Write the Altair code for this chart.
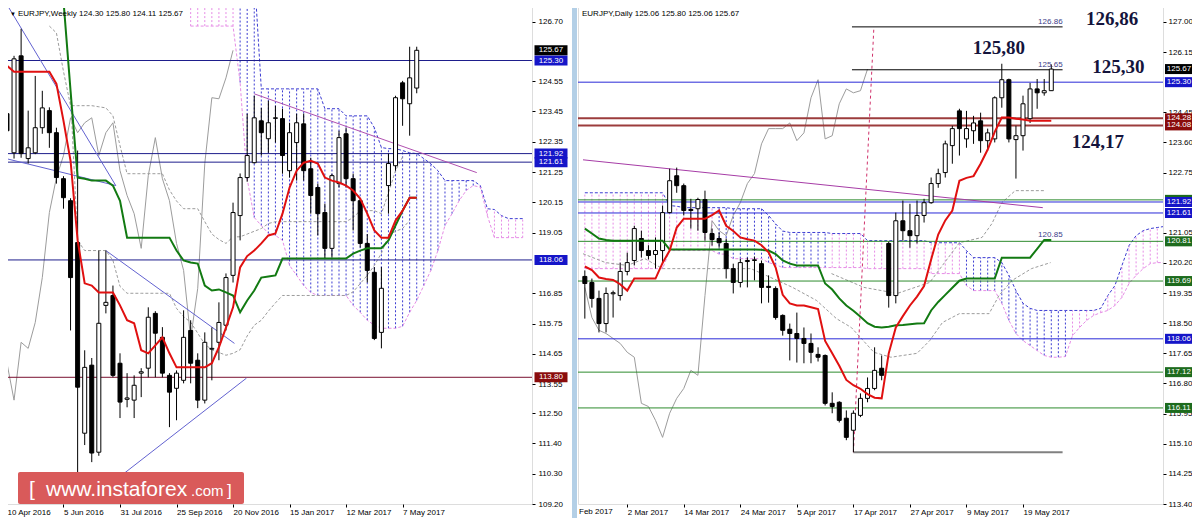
import json
import altair as alt
import pandas as pd

# ======================= DATA =======================
# ---- Weekly (left) ----
W_TITLE = "EURJPY,Weekly  124.30 125.80 124.11 125.67"
W_XTICKS = [0, 8, 16, 24, 32, 40, 48, 56]
W_XLABELS = ["10 Apr 2016", "5 Jun 2016", "31 Jul 2016", "25 Sep 2016",
             "20 Nov 2016", "15 Jan 2017", "12 Mar 2017", "7 May 2017"]
W_YTICKS = [126.70, 124.55, 123.45, 122.35, 121.25, 120.15, 119.05,
            116.85, 115.75, 114.65, 113.55, 112.50, 111.40, 110.30, 109.20]
W_OPEN = [123.37, 121.95, 125.47, 121.74, 121.95, 122.86, 123.48, 122.68, 121.01, 120.21,
          118.69, 111.77, 114.24, 111.08, 116.41, 116.77, 114.31, 113.00, 112.97, 113.95,
          114.13, 116.12, 115.25, 113.87, 113.40, 113.69, 115.50, 114.42, 112.97, 114.82,
          115.07, 115.69, 117.50, 119.67, 121.05, 121.59, 123.11, 122.46, 123.20, 123.19,
          121.30, 122.32, 123.00, 121.37, 120.69, 119.78, 118.48, 120.83, 122.64, 121.01,
          120.21, 118.66, 117.61, 115.43, 120.76, 121.48, 124.49, 123.73, 124.30]
W_HIGH = [123.95, 125.47, 126.45, 123.48, 124.74, 124.20, 123.60, 122.86, 121.10, 120.30,
          122.03, 114.78, 114.50, 118.40, 118.40, 117.13, 114.67, 113.95, 113.87, 114.13,
          116.34, 116.20, 115.62, 113.95, 114.05, 116.23, 115.87, 114.67, 115.43, 115.61,
          116.52, 117.57, 120.14, 121.20, 123.37, 124.02, 123.58, 123.84, 123.66, 123.55,
          123.04, 123.37, 123.37, 121.77, 120.83, 120.10, 121.19, 122.75, 122.86, 121.19,
          120.30, 119.00, 117.80, 117.80, 121.92, 124.02, 124.56, 125.80, 125.80]
W_LOW = [122.40, 121.74, 121.77, 121.56, 121.90, 122.64, 122.13, 120.83, 119.92, 115.50,
         109.30, 111.34, 110.72, 110.95, 116.12, 113.80, 112.32, 112.71, 112.32, 113.08,
         113.80, 113.80, 113.80, 111.99, 112.24, 113.58, 113.58, 112.68, 112.85, 113.69,
         114.42, 115.50, 117.24, 118.77, 120.90, 121.56, 121.85, 121.95, 122.32, 121.19,
         121.05, 120.94, 120.94, 119.74, 118.95, 118.11, 118.15, 120.69, 120.69, 119.13,
         118.51, 117.24, 115.15, 114.85, 119.74, 121.30, 122.93, 122.57, 124.11]
W_CLOSE = [122.75, 125.36, 121.92, 122.13, 122.86, 123.58, 122.68, 121.05, 120.32, 117.42,
           113.44, 114.16, 111.05, 115.76, 116.52, 113.87, 112.90, 113.05, 113.51, 114.00,
           115.98, 115.40, 113.95, 113.26, 113.95, 115.25, 114.31, 112.97, 115.07, 114.85,
           115.79, 117.42, 119.78, 121.05, 121.85, 123.22, 122.68, 123.04, 123.22, 121.85,
           122.68, 123.04, 121.30, 120.40, 119.74, 118.48, 121.12, 122.50, 121.01, 120.21,
           118.66, 117.68, 115.21, 117.03, 121.56, 123.95, 123.91, 124.67, 125.67]
W_TENKAN = [125.11, 124.89, 124.89, 124.89, 124.89, 124.89, 124.89, 124.45, 123.11, 121.66,
            118.77, 117.21, 117.13, 116.88, 116.88, 116.88, 116.41, 115.87, 115.76, 114.78,
            114.67, 114.96, 115.25, 114.67, 114.16, 114.16, 114.16, 114.16, 114.16, 114.31,
            114.89, 115.60, 116.34, 117.79, 118.20, 118.40, 118.66, 118.95, 119.02, 119.74,
            120.69, 121.30, 121.59, 121.66, 121.56, 121.05, 120.94, 120.87, 120.76, 120.58,
            120.29, 119.74, 119.13, 118.87, 118.87, 119.49, 119.85, 120.32, 120.32]
W_KIJUN_START = 7
W_KIJUN = [128.50, 127.46, 124.20, 121.05, 121.01, 120.94, 120.94, 120.94, 120.76, 120.21,
           118.87, 118.87, 118.87, 118.87, 118.87, 118.87, 118.87, 118.40, 118.04, 117.97,
           117.93, 117.13, 116.95, 116.99, 116.88, 116.77, 116.16, 116.59, 116.95, 117.42,
           117.46, 117.50, 118.11, 118.11, 118.11, 118.11, 118.11, 118.11, 118.11, 118.11,
           118.11, 118.11, 118.29, 118.40, 118.48, 118.48, 118.48, 118.77, 119.31, 119.85,
           120.32, 120.32]
W_CHIKOU = [114.31, 112.97, 115.07, 114.85, 115.79, 117.42, 119.78, 121.05, 121.85, 123.22,
            122.68, 123.04, 123.22, 121.85, 122.68, 123.04, 121.30, 120.40, 119.74, 118.48,
            121.12, 122.50, 121.01, 120.21, 118.66, 117.68, 115.21, 117.03, 121.56, 123.95,
            123.91, 124.67, 125.67]
W_CLOUD_START = 26
W_CLOUD_UP = [128.5, 128.5, 128.5, 128.5, 128.5, 128.5, 128.5,
              128.5, 128.5, 128.5,
              124.27, 124.27, 124.27, 124.27, 124.27, 124.27, 124.27, 124.27, 124.27,
              123.55, 123.55, 123.55, 123.29, 123.29, 123.29, 123.29,
              122.86, 122.14, 122.10, 122.10, 122.03, 121.95, 121.92, 121.74, 121.55, 121.30,
              120.94, 120.94, 120.94, 120.94, 120.94,
              120.76, 119.92, 119.89, 119.67, 119.56, 119.56, 119.56]
W_CLOUD_LO = [126.55, 126.55, 126.55, 126.55, 126.55, 126.55, 126.55,
              124.50, 121.00, 119.60,
              119.31, 119.02, 118.95, 118.77, 117.86, 117.50, 117.13, 116.88, 116.77,
              116.77, 116.77, 116.77, 116.77, 116.41, 116.16, 115.87,
              115.69, 115.58, 115.58, 115.58, 115.65, 116.16, 116.59, 117.13, 117.68, 118.40,
              119.31, 119.74, 120.21, 120.58, 120.76,
              120.70, 119.67, 118.87, 118.87, 118.87, 118.87, 118.87]
W_CLOUD_SIDE = "ppppppp" + "b" * 34 + "ppppppp"
W_GRAY1_START = 6
W_GRAY1 = [126.55, 126.30, 124.90, 123.66, 123.66, 123.66, 123.66, 123.62, 123.58, 123.29,
           122.21, 121.19, 121.19, 121.19, 121.19, 121.19, 121.19, 120.60, 120.20, 119.92,
           119.92, 119.92, 119.45, 119.00, 118.80, 118.66, 118.90, 118.90, 119.00, 119.10,
           119.20, 119.38, 119.45, 119.45, 119.45, 119.45, 119.45, 119.45, 119.45, 119.45,
           119.45, 119.45, 119.45, 119.60, 119.85, 119.85, 119.85, 119.74, 120.50, 121.30,
           121.80]
W_GRAY2_START = 9
W_GRAY2 = [124.00, 118.77, 118.40, 118.40, 118.40, 118.40, 118.04, 117.10, 116.85, 116.85,
           116.85, 116.85, 116.85, 116.85, 116.85, 116.30, 116.00, 115.80, 115.40, 115.00,
           114.80, 114.70, 114.60, 114.67, 114.80, 115.30, 115.69, 115.87, 116.20, 116.50,
           116.77, 116.77, 116.77, 116.77, 116.77, 116.77, 116.77, 116.77, 116.77, 116.77,
           116.90, 117.20, 117.50, 117.86, 118.30, 118.95, 119.10, 119.20, 119.50]
W_TREND_ID = ["a", "a", "b", "b", "c", "c", "d", "d", "e", "e"]
W_TREND_I = [0.28, 15.4, -0.14, 15.4, 14.0, 32.2, 10.3, 33.9, 35.0, 66.5]
W_TREND_V = [127.21, 120.76, 121.74, 120.76, 118.40, 115.03, 109.06, 113.77, 124.09, 121.23]
W_LEVELS_BLUE = [125.30, 121.92, 121.61, 118.06]
W_LEVELS_RED = [113.80]
W_PRICE = 125.67

# ---- Daily (right) ----
D_TITLE = "EURJPY,Daily  125.06 125.80 125.06 125.67"
D_XTICKS = [0, 8, 16, 24, 32, 40, 48, 56]
D_XLABELS = ["2 Mar 2017", "14 Mar 2017", "24 Mar 2017", "5 Apr 2017",
             "17 Apr 2017", "27 Apr 2017", "9 May 2017", "19 May 2017"]
D_YTICKS = [127.00, 126.15, 124.45, 123.60, 122.75, 121.05, 120.20,
            119.35, 118.50, 117.65, 116.80, 115.95, 115.10, 114.25, 113.40]
D_START = -6
D_OPEN = [119.82, 119.65, 119.20, 118.49, 119.33, 119.28,
          119.96, 120.27, 120.89, 120.55, 120.44, 120.55, 121.62, 122.66, 122.38, 121.71,
          121.73, 121.99, 121.03, 120.89, 120.75, 120.04, 119.65, 120.24, 120.27, 120.18,
          119.54, 119.48, 118.72, 118.33, 118.21, 118.07, 117.93, 117.62, 117.59, 116.24,
          116.27, 115.82, 115.48, 115.90, 116.38, 116.66, 117.23, 120.75, 119.28, 121.39,
          121.11, 120.97, 121.54, 121.90, 122.44, 122.75, 123.51, 124.49, 123.70, 123.93,
          124.21, 123.65, 123.70, 124.86, 125.37, 123.68, 123.79, 124.27, 125.11, 125.00,
          125.06]
D_HIGH = [119.99, 119.76, 119.42, 119.51, 119.42, 120.21,
          120.49, 121.25, 121.11, 120.70, 120.92, 121.82, 122.86, 122.89, 122.44, 122.01,
          122.04, 122.24, 121.17, 121.06, 120.89, 120.18, 120.32, 120.35, 120.38, 120.27,
          119.85, 119.54, 118.75, 118.49, 118.80, 118.38, 118.21, 117.82, 117.62, 116.55,
          116.30, 116.04, 116.04, 116.52, 116.97, 117.82, 117.59, 120.80, 121.62, 121.96,
          121.87, 121.96, 122.01, 122.61, 122.86, 123.65, 124.07, 124.55, 124.49, 124.35,
          124.44, 123.99, 124.90, 125.82, 125.40, 124.07, 124.92, 125.28, 125.39, 125.39,
          125.80]
D_LOW = [118.63, 118.94, 118.24, 118.24, 118.66, 119.14,
         119.85, 120.13, 120.35, 120.30, 120.04, 120.18, 121.60, 122.18, 121.54, 121.17,
         121.11, 120.83, 120.69, 120.63, 119.76, 119.34, 119.51, 119.51, 119.71, 119.06,
         119.08, 118.60, 118.15, 117.45, 117.39, 117.37, 117.37, 117.42, 116.18, 115.96,
         115.70, 115.20, 114.86, 115.85, 116.27, 116.61, 116.89, 118.94, 119.06, 120.83,
         120.63, 120.75, 121.34, 121.87, 122.32, 122.61, 123.00, 123.23, 123.45, 123.56,
         123.31, 123.37, 123.60, 124.58, 123.60, 122.58, 123.37, 124.15, 124.55, 124.92,
         125.06]
D_CLOSE = [119.62, 119.20, 118.49, 119.34, 119.36, 119.96,
           120.21, 121.17, 120.55, 120.41, 120.55, 121.62, 122.52, 122.38, 121.68, 121.68,
           121.99, 121.06, 120.86, 120.77, 120.04, 119.65, 120.21, 120.27, 120.29, 119.51,
           119.51, 118.66, 118.30, 118.21, 118.07, 117.93, 117.68, 117.54, 116.24, 116.15,
           115.76, 115.28, 115.96, 116.38, 116.66, 117.17, 117.03, 119.28, 121.39, 121.11,
           120.97, 121.54, 121.90, 122.44, 122.72, 123.56, 123.99, 123.99, 123.99, 124.15,
           123.65, 123.87, 124.86, 125.37, 123.70, 123.79, 124.69, 125.11, 125.00, 125.06,
           125.67]
D_TENKAN = [120.10, 120.00, 119.79, 119.75, 119.72, 119.60,
            119.42, 119.76, 119.76, 119.76, 119.76, 120.20, 120.55, 121.20, 121.45, 121.45,
            121.45, 121.45, 121.55, 121.68, 121.25, 121.10, 120.92, 120.87, 120.83, 120.70,
            120.50, 120.07, 119.30, 119.06, 119.00, 119.00, 118.95, 118.90, 118.00, 117.65,
            117.30, 116.90, 116.75, 116.65, 116.50, 116.40, 116.38, 117.65, 118.38, 118.70,
            119.00, 119.25, 119.55, 120.30, 121.00, 121.40, 121.68, 122.52, 122.60, 122.65,
            123.00, 123.40, 123.90, 124.30, 124.30, 124.27, 124.25, 124.21, 124.21, 124.21,
            124.21]
D_KIJUN = [121.17, 121.03, 120.89, 120.85, 120.83, 120.83,
           120.83, 120.83, 120.83, 120.83, 120.83, 120.83, 120.58, 120.58, 120.58, 120.58,
           120.58, 120.58, 120.58, 120.58, 120.58, 120.58, 120.58, 120.58, 120.58, 120.57,
           120.55, 120.45, 120.27, 120.18, 120.13, 120.13, 120.13, 120.13, 119.62, 119.45,
           119.20, 119.00, 118.85, 118.68, 118.50, 118.40, 118.38, 118.40, 118.44, 118.45,
           118.47, 118.49, 118.50, 118.86, 119.10, 119.30, 119.50, 119.70, 119.76, 119.76,
           119.76, 119.76, 119.76, 120.35, 120.35, 120.35, 120.35, 120.35, 120.60, 120.85,
           120.85]
D_CHIKOU = [119.51, 118.66, 118.30, 118.21, 118.07, 117.93, 117.68, 117.54, 116.24, 116.15,
            115.76, 115.28, 115.96, 116.38, 116.66, 117.17, 117.03, 119.28, 121.39, 121.11,
            120.97, 121.54, 121.90, 122.44, 122.72, 123.56, 123.99, 123.99, 123.99, 124.15,
            123.65, 123.87, 124.86, 125.37, 123.70, 123.79, 124.69, 125.11, 125.00, 125.06,
            125.67]
D_CLOUD_UP = [122.18, 122.18, 122.18, 122.18, 122.18, 122.18, 122.18, 122.18, 122.18, 122.18,
              122.18, 122.18, 121.82, 121.80, 121.76, 121.76, 121.76, 121.76, 121.76, 121.76,
              121.76, 121.73, 121.73, 121.73, 121.73, 121.73, 121.54, 121.30, 121.10, 121.06,
              121.06, 121.06, 121.06, 121.06, 121.06, 121.03, 121.03, 121.03, 121.03, 121.03,
              120.83, 120.83, 120.83, 120.83, 120.83, 120.83, 120.83, 120.83, 120.83, 120.77,
              120.77, 120.77, 120.77, 120.77, 120.55, 120.35, 120.35, 120.35, 120.35, 120.21,
              119.85, 119.42, 119.06, 118.92, 118.86, 118.86, 118.86, 118.86, 118.86, 118.86,
              118.86, 118.86, 118.86, 118.92, 119.28, 119.56, 120.13, 120.69, 120.97, 121.11,
              121.17, 121.20, 121.23]
D_CLOUD_LO = [120.04, 120.04, 120.04, 120.04, 120.04, 120.04, 120.04, 120.04, 120.04, 120.04,
              120.04, 120.04, 120.55, 120.55, 120.55, 120.55, 120.55, 120.55, 120.55, 120.45,
              120.45, 120.32, 120.32, 120.32, 120.32, 120.32, 120.21, 120.15, 120.07, 120.07,
              120.07, 120.07, 120.07, 120.07, 120.07, 120.07, 120.07, 120.07, 120.07, 120.07,
              120.04, 120.04, 120.04, 120.04, 120.04, 120.04, 120.04, 120.04, 120.04, 119.90,
              119.90, 119.90, 119.90, 119.90, 119.56, 119.42, 119.42, 119.42, 119.42, 119.06,
              118.58, 118.21, 118.01, 117.87, 117.73, 117.59, 117.54, 117.54, 117.56, 118.15,
              118.38, 118.58, 118.72, 118.80, 118.86, 119.00, 119.23, 119.62, 119.85, 120.04,
              120.18, 120.21, 120.21]
D_CLOUD_SIDE = "p" * 19 + "b" * 16 + "p" * 19 + "b" * 15 + "p" * 14
D_GRAY1_I = [-6.26, -3.06, 0, 2.5, 5.0, 17.5, 21.3, 23.4, 26.8, 29.6, 31.7, 34.9, 37.3,
             41.0, 42.8, 44.6, 47.0, 51.2, 52.6, 54.4, 57.2, 59.9]
D_GRAY1_V = [120.46, 120.21, 120.13, 120.32, 120.04, 120.04, 119.70, 119.51, 119.14, 118.63,
             118.38, 117.68, 117.54, 117.65, 118.01, 118.52, 118.77, 118.77, 119.28, 119.70,
             120.04, 120.21]
D_GRAY2_I = [28.9, 33.5, 38.2, 42.8, 47.0, 50.2, 51.6, 53.0, 54.9, 59.1]
D_GRAY2_V = [119.90, 119.51, 119.34, 119.65, 120.77, 120.92, 121.31, 121.90, 122.24, 122.24]
D_TREND_I = [-6.26, 58.8]
D_TREND_V = [123.11, 121.76]
D_TARGET_I = [32.0, 34.9]
D_TARGET_V = [114.86, 126.86]
D_SEG_V = [126.86, 125.65]
D_SEG_FROM, D_SEG_TO = 31.8, 61.6
D_LOW_LINE = 114.86
D_LOW_FROM = 32.0
D_SMALL_TEXT = ["126.86", "125.65", "120.85"]
D_SMALL_V = [126.86, 125.65, 120.85]
D_ANN_TEXT = ["126,86", "125,80", "125,30", "124,17"]
D_ANN_I = [68.6, 52.6, 69.5, 66.6]
D_ANN_V = [127.08, 126.27, 125.73, 123.62]
D_LEVELS_BLUE = [125.30, 121.92, 121.61, 118.06]
D_LEVELS_RED = [124.28, 124.08]
D_LEVELS_GREEN = [121.98, 120.81, 119.69, 117.12, 116.11]
D_PRICE = 125.67

# ======================= STYLE =======================
FONT = "Liberation Sans"
H = 503
LW, RW = 531, 585
L_XDOM, R_XDOM = [-0.139, 73.61], [-6.26, 75.10]
L_YDOM, R_YDOM = [109.20, 127.46], [113.40, 127.59]
RED, GREEN, GRAY = "#e01010", "#127a12", "#9c9c9c"
HATCH_B, HATCH_P = "#3c3cd2", "#e68ce6"


def ctx(xdom, ydom, xticks, xlabels, yticks, lab_pad):
    xs = alt.Scale(domain=xdom, nice=False, zero=False)
    ys = alt.Scale(domain=ydom, nice=False, zero=False)
    xa = alt.Axis(values=xticks, labelExpr=json.dumps(xlabels) + "[round(datum.value/8)]",
                  orient="bottom", grid=False, domain=False, tickSize=3, tickColor="black",
                  labelAlign="left", labelFont=FONT, labelFontSize=8, labelColor="black",
                  labelPadding=1, title=None, labelOverlap=False, labelFlush=False)
    ya = alt.Axis(values=yticks, format=".2f", orient="right", grid=False, domain=False,
                  tickSize=3, tickColor="black", labelFont=FONT, labelFontSize=8,
                  labelColor="black", labelPadding=lab_pad, title=None, labelOverlap=False,
                  labelFlush=False)
    return {"xs": xs, "ys": ys, "xa": xa, "ya": ya}


def X(f, P):
    return alt.X(f + ":Q", scale=P["xs"], axis=P["xa"])


def Y(f, P):
    return alt.Y(f + ":Q", scale=P["ys"], axis=P["ya"])


def line(P, idx, vals, color, width=1.0, dash=None):
    df = pd.DataFrame({"i": idx, "v": vals})
    kw = dict(color=color, strokeWidth=width, clip=True)
    if dash:
        kw["strokeDash"] = dash
    return alt.Chart(df).mark_line(**kw).encode(x=X("i", P), y=Y("v", P))


def candles(P, start, O, Hi, L, C):
    df = pd.DataFrame({"i": list(range(start, start + len(O))), "o": O, "h": Hi, "l": L, "c": C})
    wick = alt.Chart(df).mark_rule(color="black", strokeWidth=1, clip=True).encode(
        x=X("i", P), y=Y("l", P), y2="h:Q")
    up = alt.Chart(df[df.c >= df.o]).mark_bar(width=4, fill="white", stroke="black",
                                               strokeWidth=1, clip=True).encode(
        x=X("i", P), y=Y("o", P), y2="c:Q")
    dn = alt.Chart(df[df.c < df.o]).mark_bar(width=4, fill="black", stroke="black",
                                              strokeWidth=1, clip=True).encode(
        x=X("i", P), y=Y("o", P), y2="c:Q")
    return [wick, up, dn]


def cloud(P, start, up, lo, side):
    df = pd.DataFrame({"i": list(range(start, start + len(up))), "u": up, "l": lo, "k": list(side)})
    out = []
    for k, col in (("b", HATCH_B), ("p", HATCH_P)):
        out.append(alt.Chart(df[df.k == k]).mark_rule(color=col, strokeWidth=1, strokeDash=[2, 2],
                                                      clip=True).encode(
            x=X("i", P), y=Y("l", P), y2="u:Q"))
    out.append(line(P, df.i.tolist(), up, HATCH_B, 1, [3, 2]))
    out.append(line(P, df.i.tolist(), lo, HATCH_P, 1, [3, 2]))
    return out


def levels(P, vals, color, width=1.0):
    return alt.Chart(pd.DataFrame({"v": vals})).mark_rule(
        color=color, strokeWidth=width, clip=True).encode(y=Y("v", P))


def boxes(P, vals, color, xc, size):
    df = pd.DataFrame({"v": vals, "t": ["%.2f" % v for v in vals]})
    b = alt.Chart(df).mark_tick(orient="horizontal", size=size, thickness=10, color=color,
                                opacity=1, clip=False).encode(x=alt.value(xc), y=Y("v", P))
    t = alt.Chart(df).mark_text(color="white", font=FONT, fontSize=8, align="center",
                                baseline="middle", clip=False).encode(
        x=alt.value(xc), y=Y("v", P), text="t:N")
    return [b, t]


def ptext(txt, x, y, size=8, color="black", align="left"):
    return alt.Chart(pd.DataFrame({"t": [txt]})).mark_text(
        align=align, baseline="middle", font=FONT, fontSize=size, color=color,
        clip=False).encode(x=alt.value(x), y=alt.value(y), text="t:N")


# ======================= LEFT PANEL =======================
PL = ctx(L_XDOM, L_YDOM, W_XTICKS, W_XLABELS, W_YTICKS, 3)
L = []
L += cloud(PL, W_CLOUD_START, W_CLOUD_UP, W_CLOUD_LO, W_CLOUD_SIDE)
L.append(line(PL, list(range(W_GRAY1_START, W_GRAY1_START + len(W_GRAY1))), W_GRAY1, GRAY, 1, [3, 2]))
L.append(line(PL, list(range(W_GRAY2_START, W_GRAY2_START + len(W_GRAY2))), W_GRAY2, GRAY, 1, [3, 2]))
L.append(line(PL, list(range(len(W_CHIKOU))), W_CHIKOU, GRAY, 1))
L.append(levels(PL, W_LEVELS_BLUE, "#1e1e8c"))
L.append(levels(PL, W_LEVELS_RED, "#7a1030"))
tdf = pd.DataFrame({"id": W_TREND_ID, "i": W_TREND_I, "v": W_TREND_V})
L.append(alt.Chart(tdf[tdf.id != "e"]).mark_line(color="#6262d0", strokeWidth=1, clip=True).encode(
    x=X("i", PL), y=Y("v", PL), detail="id:N"))
L.append(alt.Chart(tdf[tdf.id == "e"]).mark_line(color="#b050b0", strokeWidth=1, clip=True).encode(
    x=X("i", PL), y=Y("v", PL)))
L += candles(PL, 0, W_OPEN, W_HIGH, W_LOW, W_CLOSE)
L.append(line(PL, list(range(W_KIJUN_START, W_KIJUN_START + len(W_KIJUN))), W_KIJUN, GREEN, 2))
L.append(line(PL, list(range(len(W_TENKAN))), W_TENKAN, RED, 2))
L += boxes(PL, W_LEVELS_BLUE, "#1515c8", LW + 19, 33)
L += boxes(PL, W_LEVELS_RED, "#8a0c0c", LW + 19, 33)
L += boxes(PL, [W_PRICE], "#000000", LW + 19, 33)
L.append(ptext("\u25BC", 9, 13, 6))
L.append(ptext(W_TITLE, 17, 13, 8))
L.append(alt.Chart(pd.DataFrame({"a": [0]})).mark_rect(color="#d95a5a", cornerRadius=2).encode(
    x=alt.value(17), x2=alt.value(243), y=alt.value(471), y2=alt.value(503)))
for txt, x, s in (("[", 28, 21), ("www.instaforex", 45, 21), (".com", 190, 15), ("]", 226, 17)):
    L.append(alt.Chart(pd.DataFrame({"t": [txt]})).mark_text(
        align="left", baseline="alphabetic", font=FONT, fontSize=s, color="white").encode(
        x=alt.value(x), y=alt.value(495), text="t:N"))
left = alt.layer(*L).properties(width=LW, height=H)

# ======================= RIGHT PANEL =======================
PR = ctx(R_XDOM, R_YDOM, D_XTICKS, D_XLABELS, D_YTICKS, 2)
R = []
R.append(alt.Chart(pd.DataFrame({"a": [0]})).mark_rect(color="#b3cfe6", clip=False).encode(
    x=alt.value(-6), x2=alt.value(-1), y=alt.value(0), y2=alt.value(H + 14)))
R += cloud(PR, D_START, D_CLOUD_UP, D_CLOUD_LO, D_CLOUD_SIDE)
R.append(line(PR, D_GRAY1_I, D_GRAY1_V, GRAY, 1, [3, 2]))
R.append(line(PR, D_GRAY2_I, D_GRAY2_V, GRAY, 1, [3, 2]))
R.append(line(PR, list(range(D_START, D_START + len(D_CHIKOU))), D_CHIKOU, GRAY, 1))
R.append(levels(PR, D_LEVELS_GREEN, "#2e8b2e"))
R.append(levels(PR, D_LEVELS_BLUE, "#2a2ad8"))
R.append(levels(PR, D_LEVELS_RED, "#9c3c3c", 2))
R.append(line(PR, D_TREND_I, D_TREND_V, "#a63ca6", 1))
sdf = pd.DataFrame({"v": D_SEG_V, "a": D_SEG_FROM, "b": D_SEG_TO})
R.append(alt.Chart(sdf).mark_rule(color="black", strokeWidth=1, clip=True).encode(
    x=X("a", PR), x2="b:Q", y=Y("v", PR)))
R.append(alt.Chart(pd.DataFrame({"v": [D_LOW_LINE], "a": [D_LOW_FROM], "b": [D_SEG_TO]})).mark_rule(
    color="#808080", strokeWidth=2, clip=True).encode(x=X("a", PR), x2="b:Q", y=Y("v", PR)))
R.append(line(PR, D_TARGET_I, D_TARGET_V, "#d0306a", 1, [3, 3]))
R += candles(PR, D_START, D_OPEN, D_HIGH, D_LOW, D_CLOSE)
R.append(line(PR, list(range(D_START, D_START + len(D_KIJUN))), D_KIJUN, GREEN, 2))
R.append(line(PR, list(range(D_START, D_START + len(D_TENKAN))), D_TENKAN, RED, 2))
smdf = pd.DataFrame({"t": D_SMALL_TEXT, "v": D_SMALL_V, "i": [D_SEG_TO] * 3})
R.append(alt.Chart(smdf).mark_text(align="right", baseline="bottom", dy=-1, font=FONT, fontSize=8,
                                   color="#40408a", clip=True).encode(
    x=X("i", PR), y=Y("v", PR), text="t:N"))
adf = pd.DataFrame({"t": D_ANN_TEXT, "i": D_ANN_I, "v": D_ANN_V})
R.append(alt.Chart(adf).mark_text(align="center", baseline="middle", font="Liberation Serif",
                                  fontSize=19, fontWeight="bold", color="#14143c", clip=False).encode(
    x=X("i", PR), y=Y("v", PR), text="t:N"))
R += boxes(PR, D_LEVELS_GREEN, "#1d6b1d", RW + 16, 28)
R += boxes(PR, D_LEVELS_RED, "#8a0c0c", RW + 16, 28)
R += boxes(PR, D_LEVELS_BLUE, "#1515c8", RW + 16, 28)
R += boxes(PR, [D_PRICE], "#000000", RW + 16, 28)
R.append(ptext(D_TITLE, 4, 13, 8))
R.append(alt.Chart(pd.DataFrame({"t": ["Feb 2017"]})).mark_text(
    align="left", baseline="top", font=FONT, fontSize=8, color="black").encode(
    x=alt.value(1), y=alt.value(H + 4), text="t:N"))
right = alt.layer(*R).properties(width=RW, height=H)

chart = alt.hconcat(left, right, spacing=46, bounds="flush").properties(
    padding={"left": -8, "top": -8, "right": -2, "bottom": 0}
).configure_view(stroke="black", strokeWidth=1).configure(background="white")

chart.save("out.html", embed_options={"renderer": "svg", "actions": False})
